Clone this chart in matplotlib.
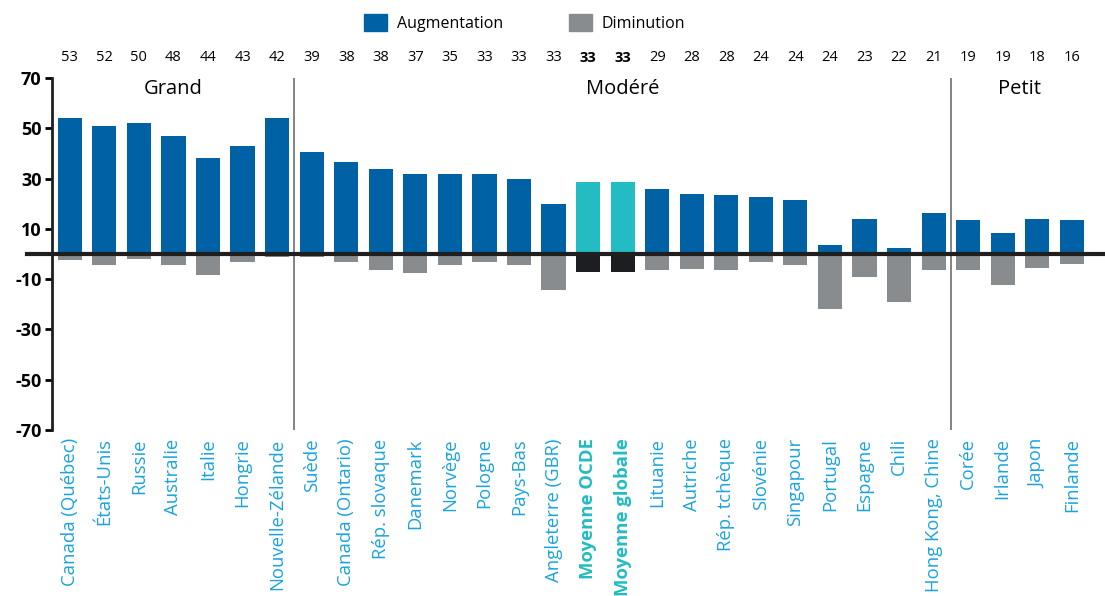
import numpy as np
import matplotlib.pyplot as plt
from matplotlib.patches import Patch

plt.rcParams["font.family"] = ["Open Sans", "DejaVu Sans"]
plt.rcParams["axes.unicode_minus"] = False

pays = ["Canada (Québec)", "États-Unis", "Russie", "Australie", "Italie", "Hongrie",
        "Nouvelle-Zélande", "Suède", "Canada (Ontario)", "Rép. slovaque", "Danemark",
        "Norvège", "Pologne", "Pays-Bas", "Angleterre (GBR)", "Moyenne OCDE",
        "Moyenne globale", "Lituanie", "Autriche", "Rép. tchèque", "Slovénie",
        "Singapour", "Portugal", "Espagne", "Chili", "Hong Kong, Chine", "Corée",
        "Irlande", "Japon", "Finlande"]
augmentation = [54, 51, 52, 47, 38, 43, 54, 40.5, 36.5, 34, 32, 32, 32, 30, 20, 28.5,
                28.5, 26, 24, 23.5, 22.5, 21.5, 3.5, 14, 2.5, 16.5, 13.5, 8.5, 14, 13.5]
diminution = [-2.5, -4.5, -1.8, -4.5, -8.5, -3.3, -1.3, -1.3, -3.3, -6.5, -7.5, -4.5,
              -3, -4.5, -14.5, -7.3, -7.3, -6.5, -6, -6.5, -3, -4.5, -22, -9, -19,
              -6.5, -6.5, -12.5, -5.5, -4]
totaux = [53, 52, 50, 48, 44, 43, 42, 39, 38, 38, 37, 35, 33, 33, 33, 33, 33, 29, 28,
          28, 24, 24, 24, 23, 22, 21, 19, 19, 18, 16]
moyennes = ["Moyenne OCDE", "Moyenne globale"]
groupes = [("Grand", 0, 6), ("Modéré", 7, 25), ("Petit", 26, 29)]

bleu = "#0062a5"
gris = "#898c8f"
turquoise = "#22bcc2"
noir = "#1d1e22"
bleu_clair = "#1aa3de"

fig = plt.figure(figsize=(11.05, 5.96), dpi=100)
ax = fig.add_axes([0.0475, 0.2785, 0.9525, 0.5906])

x = np.arange(len(pays))
est_moy = np.array([p in moyennes for p in pays])
coul_aug = [turquoise if m else bleu for m in est_moy]
coul_dim = [noir if m else gris for m in est_moy]
ax.bar(x, augmentation, width=0.7, color=coul_aug, zorder=2)
ax.bar(x, diminution, width=0.7, color=coul_dim, zorder=2)

# ligne du zéro, qui dépasse à gauche de l'axe
ax.plot([-1.25, len(pays)], [0, 0], color="#1f1f1f", lw=3, clip_on=False, zorder=4)

ax.set_xlim(-0.5, 29.96)
ax.set_ylim(-70, 70)
ax.set_yticks([70, 50, 30, 10, -10, -30, -50, -70])
ax.tick_params(axis="y", length=5, width=2, labelsize=13, pad=3)
for t in ax.get_yticklabels():
    t.set_fontweight("bold")

ax.set_xticks(x)
ax.set_xticklabels(pays, rotation=90, fontsize=13.3)
ax.tick_params(axis="x", length=0, pad=6)
for t, p in zip(ax.get_xticklabels(), pays):
    if p in moyennes:
        t.set_color(turquoise)
        t.set_fontweight("bold")
    else:
        t.set_color(bleu_clair)

for s in ["top", "right", "bottom"]:
    ax.spines[s].set_visible(False)
ax.spines["left"].set_linewidth(2)
ax.spines["left"].set_color("#1f1f1f")

# séparateurs et noms des groupes
for nom, debut, fin in groupes:
    ax.text((debut + fin) / 2, 65.5, nom, ha="center", va="center", fontsize=14.5)
    if fin < len(pays) - 1:
        ax.axvline(fin + 0.5, color="#6e6e6e", lw=1.2, zorder=1)

# nombres en haut
for i, v in enumerate(totaux):
    ax.text(i, 1.057, str(v), transform=ax.get_xaxis_transform(), ha="center",
            va="center", fontsize=10.5,
            fontweight="bold" if est_moy[i] else "normal")

poignees = [Patch(color=bleu, label="Augmentation"), Patch(color=gris, label="Diminution")]
fig.legend(handles=poignees, loc="upper center", bbox_to_anchor=(0.4747, 1.0), ncol=2,
           frameon=False, fontsize=11.5, handlelength=1.45, handleheight=1.25,
           columnspacing=4.1, handletextpad=0.6)

fig.savefig("out.png", dpi=100)
